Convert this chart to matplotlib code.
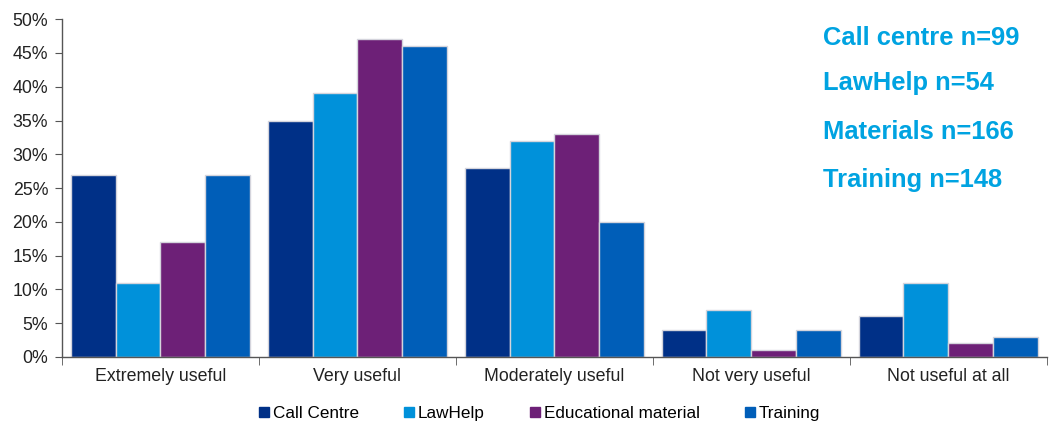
import matplotlib
matplotlib.use("Agg")
import matplotlib.pyplot as plt
import numpy as np
from matplotlib.ticker import FuncFormatter, FixedLocator
from matplotlib.lines import Line2D

categories = ["Extremely useful", "Very useful", "Moderately useful", "Not very useful", "Not useful at all"]
series_names = ["Call Centre", "LawHelp", "Educational material", "Training"]
call_centre = [27, 35, 28, 4, 6]
lawhelp = [11, 39, 32, 7, 11]
educational = [17, 47, 33, 1, 2]
training = [27, 46, 20, 4, 3]
annotations = ["Call centre n=99", "LawHelp n=54", "Materials n=166", "Training n=148"]

colors = ["#003087", "#0091DA", "#6D2077", "#005EB8"]
plt.rcParams['font.family'] = ['Liberation Sans', 'DejaVu Sans']

fig = plt.figure(figsize=(10.53, 4.26), dpi=100)
ax = fig.add_axes([0.0589, 0.162, 0.935, 0.793])

series = [call_centre, lawhelp, educational, training]
x = np.arange(len(categories))
group_w = 0.91
bw = group_w / 4
for i, (vals, c, name) in enumerate(zip(series, colors, series_names)):
    ax.bar(x - group_w / 2 + bw * (i + 0.5), vals, width=bw, color=c,
           edgecolor="#D4D4DC", linewidth=1.0, label=name)

ax.set_xlim(-0.5, len(categories) - 0.5)
ax.set_ylim(0, 50)
ax.set_yticks(np.arange(0, 51, 5))
ax.yaxis.set_major_formatter(FuncFormatter(lambda v, p: f"{int(v)}%"))
ax.set_xticks(x)
ax.set_xticklabels(categories)
ax.xaxis.set_minor_locator(FixedLocator(np.arange(-0.5, len(categories), 1)))
ax.tick_params(axis="x", which="major", length=0, pad=8, labelsize=12.8, colors="#222222")
ax.tick_params(axis="x", which="minor", length=6, color="#555555", direction="out")
ax.tick_params(axis="y", length=5, color="#555555", labelsize=12.8, labelcolor="#222222", pad=5)
for s in ["top", "right"]:
    ax.spines[s].set_visible(False)
for s in ["left", "bottom"]:
    ax.spines[s].set_color("#555555")
    ax.spines[s].set_linewidth(1.0)

for t, ypx in zip(annotations, [38, 83, 132, 180]):
    fig.text(823 / 1053, 1 - ypx / 426, t, color="#00A3E1", fontsize=18.4,
             fontweight="bold", ha="left", va="center",
             family=["Liberation Sans", "DejaVu Sans"])

handles = [Line2D([0], [0], marker="s", linestyle="", markersize=7, color=c) for c in colors]
fig.legend(handles, series_names, loc="center", bbox_to_anchor=(0.51, 0.03), ncol=4,
           frameon=False, fontsize=12.3, handletextpad=-0.1, columnspacing=2.35,
           handlelength=1.2)

fig.savefig("out.png", dpi=100)
